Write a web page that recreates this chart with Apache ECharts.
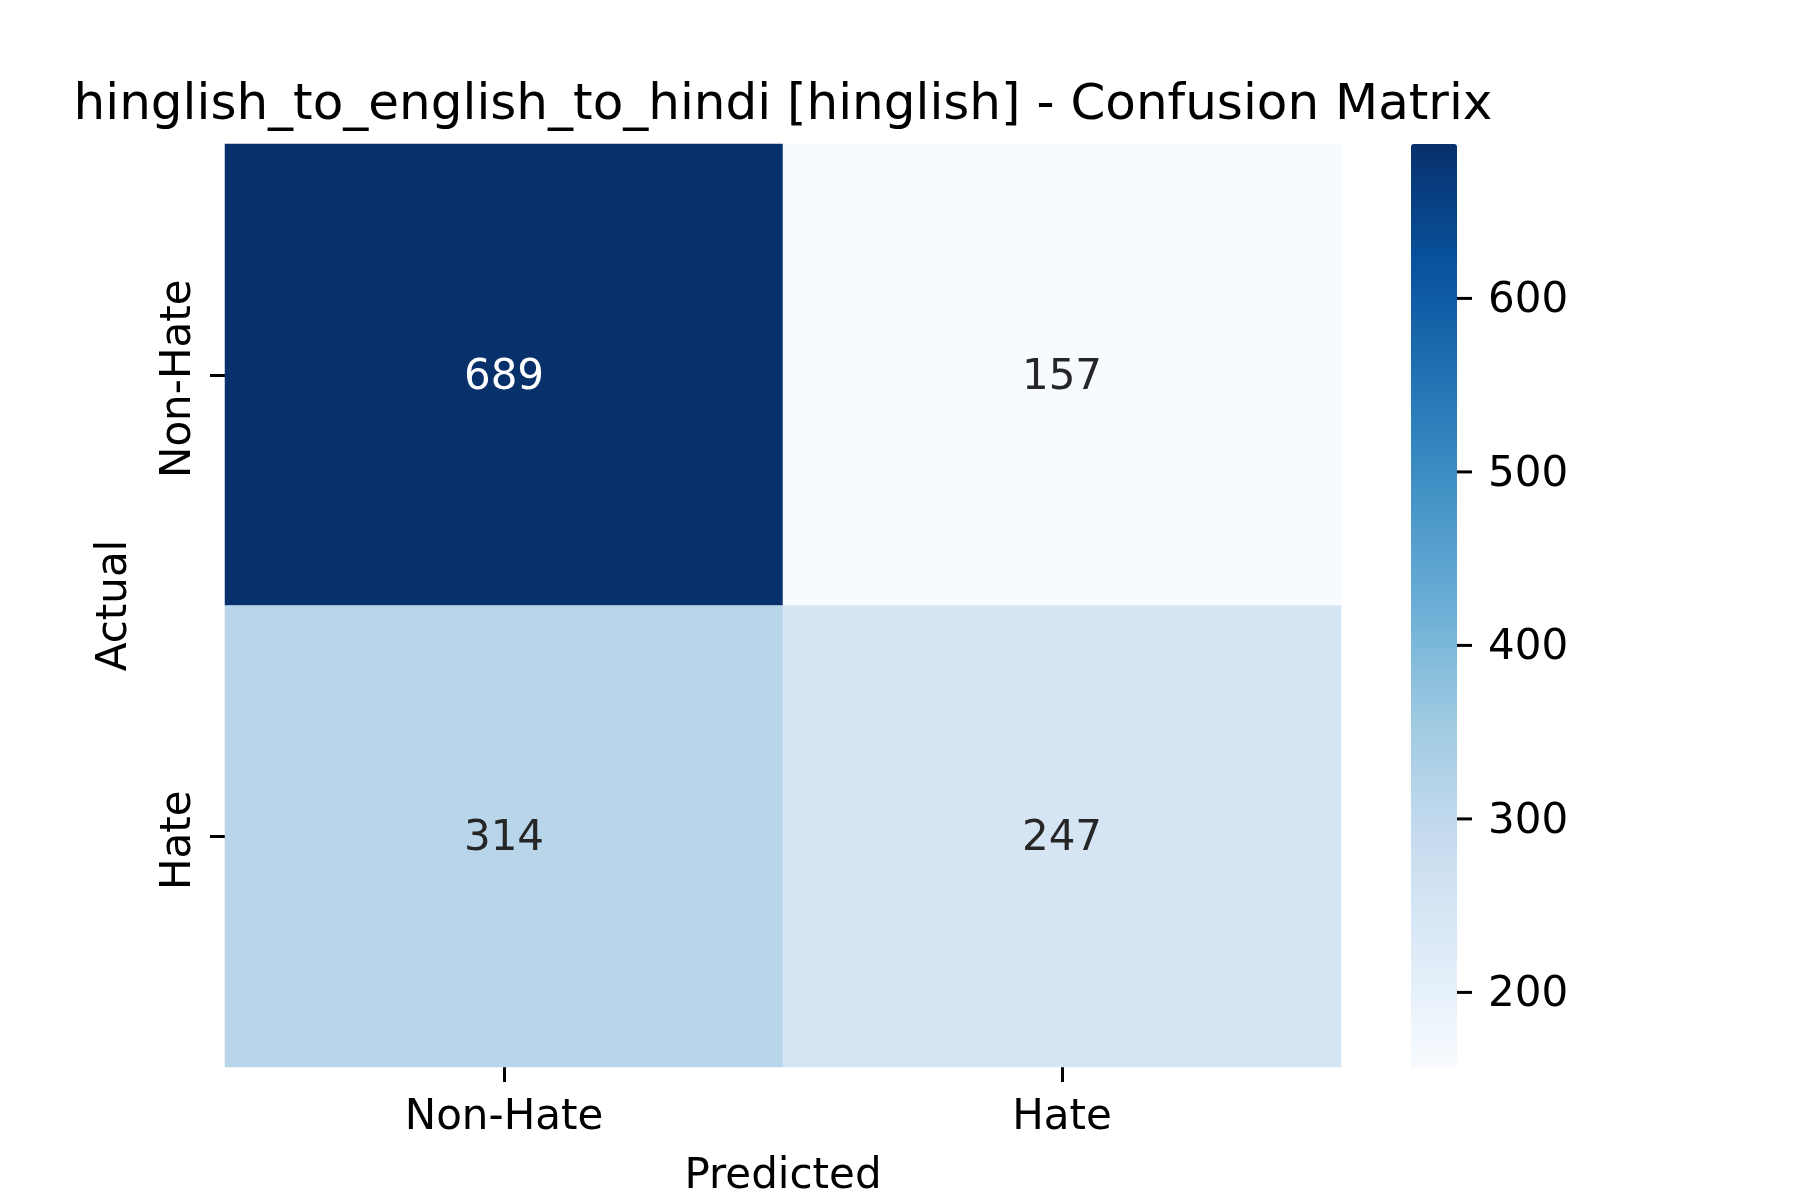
<!DOCTYPE html>
<html>
<head>
<meta charset="utf-8">
<title>Confusion Matrix</title>
<style>
  html, body { margin: 0; padding: 0; background: #fff; }
  #main { width: 1800px; height: 1200px; }
</style>
</head>
<body>
<div id="main"></div>
<script src="https://cdn.jsdelivr.net/npm/echarts@6/dist/echarts.min.js"></script>
<script>
// categories (rows = actual, columns = predicted)
var labels = ['Non-Hate', 'Hate'];
// counts, row by row
var rowNonHate = [689, 157];
var rowHate = [314, 247];
var cbTicks = [200, 300, 400, 500, 600];
// matplotlib "Blues"
var blues = ['#f7fbff', '#deebf7', '#c6dbef', '#9ecae1', '#6baed6', '#4292c6', '#2171b5', '#08519c', '#08306b'];

var rows = [rowNonHate, rowHate];
var all = rowNonHate.concat(rowHate);
var vMin = Math.min.apply(null, all);
var vMax = Math.max.apply(null, all);

var cells = [];
rows.forEach(function (row, y) {
    row.forEach(function (v, x) {
        var t = (v - vMin) / (vMax - vMin);
        cells.push({
            value: [x, y, v],
            label: { color: t > 0.6 ? '#ffffff' : '#262626' }
        });
    });
});

// colorbar ticks sit on the right edge (x = 1) of the colorbar grid
var cbTickData = cbTicks.map(function (v) { return [1, v]; });

var font = 'DejaVu Sans';
var tickStyle = { color: '#000', width: 3 };
var chart = echarts.init(document.getElementById('main'));

chart.setOption({
    backgroundColor: '#ffffff',
    animation: false,
    title: {
        text: 'hinglish_to_english_to_hindi [hinglish] - Confusion Matrix',
        left: 778,
        top: 76,
        textAlign: 'center',
        textStyle: { fontFamily: font, fontSize: 50, fontWeight: 'normal', color: '#000' }
    },
    grid: [
        { left: 225, top: 144, width: 1116, height: 923, outerBoundsMode: 'none' },
        { left: 1411, top: 144, width: 46, height: 923, outerBoundsMode: 'none' }
    ],
    xAxis: [{
        type: 'category',
        gridIndex: 0,
        data: labels,
        name: 'Predicted',
        nameLocation: 'middle',
        nameGap: 89,
        nameTextStyle: { fontFamily: font, fontSize: 42, color: '#000' },
        axisLine: { show: false },
        axisTick: { show: true, alignWithLabel: true, length: 15, lineStyle: tickStyle },
        axisLabel: { margin: 30, fontFamily: font, fontSize: 42, color: '#000' },
        splitLine: { show: false }
    }, {
        type: 'value',
        gridIndex: 1,
        min: 0,
        max: 1,
        show: false
    }],
    yAxis: [{
        type: 'category',
        gridIndex: 0,
        data: labels,
        inverse: true,
        name: 'Actual',
        nameLocation: 'middle',
        nameGap: 89,
        nameTextStyle: { fontFamily: font, fontSize: 42, color: '#000' },
        axisLine: { show: false },
        axisTick: { show: true, alignWithLabel: true, length: 15, lineStyle: tickStyle },
        axisLabel: { rotate: 90, margin: 25, padding: [0, 8, 0, 0], fontFamily: font, fontSize: 42, color: '#000' },
        splitLine: { show: false }
    }, {
        type: 'value',
        gridIndex: 1,
        min: vMin,
        max: vMax,
        show: false
    }],
    visualMap: {
        type: 'continuous',
        seriesIndex: 0,
        min: vMin,
        max: vMax,
        calculable: false,
        hoverLink: false,
        orient: 'vertical',
        left: 1411,
        top: 144,
        padding: 0,
        itemWidth: 46,
        itemHeight: 923,
        text: null,
        showLabel: false,
        inRange: { color: blues }
    },
    series: [{
        type: 'heatmap',
        xAxisIndex: 0,
        yAxisIndex: 0,
        data: cells,
        label: {
            show: true,
            fontFamily: font,
            fontSize: 42,
            offset: [0, 3],
            formatter: function (p) { return p.value[2]; }
        },
        emphasis: { disabled: true }
    }, {
        // colorbar tick marks and labels
        type: 'scatter',
        xAxisIndex: 1,
        yAxisIndex: 1,
        data: cbTickData,
        clip: false,
        symbol: 'rect',
        symbolSize: [15, 3],
        symbolOffset: [7.5, 0],
        itemStyle: { color: '#000', opacity: 1 },
        label: {
            show: true,
            position: 'right',
            distance: 16,
            offset: [0, 3],
            fontFamily: font,
            fontSize: 42,
            color: '#000',
            opacity: 1,
            formatter: function (p) { return p.value[1]; }
        },
        emphasis: { disabled: true },
        silent: true
    }]
});
</script>
</body>
</html>
